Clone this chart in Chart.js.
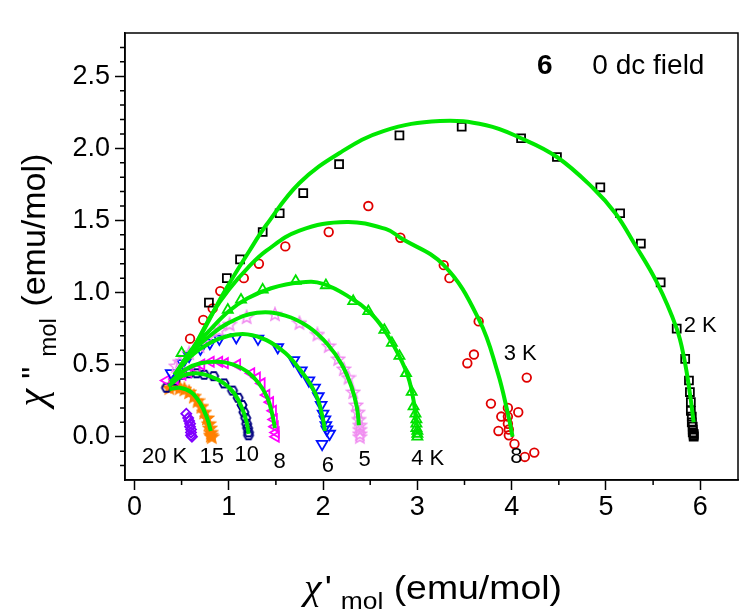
<!DOCTYPE html>
<html>
<head>
<meta charset="utf-8">
<script src="https://cdn.jsdelivr.net/npm/chart.js@4.4.0/dist/chart.umd.min.js"></script>
<style>
html,body{margin:0;padding:0;background:#fff;}
canvas{display:block;}
</style>
</head>
<body>
<canvas id="c" width="752" height="616"></canvas>
<script>
// Cole-Cole plot, compound 6, zero dc field

// axis ticks
const xTickVals = [0, 1, 2, 3, 4, 5, 6];
const xTickLabels = ['0', '1', '2', '3', '4', '5', '6'];
const yTickVals = [0, 0.5, 1, 1.5, 2, 2.5];
const yTickLabels = ['0.0', '0.5', '1.0', '1.5', '2.0', '2.5'];

// measured points (chi' , chi'')
const k2X = [0.79,0.98,1.12,1.36,1.54,1.79,2.17,2.81,3.47,4.10,4.48,4.94,5.15,5.37,5.58,5.75,5.84,5.88,5.89,5.90,5.90,5.91,5.91,5.92,5.92,5.92,5.93,5.93,5.93];
const k2Y = [0.93,1.10,1.23,1.42,1.55,1.69,1.89,2.09,2.15,2.07,1.94,1.73,1.55,1.34,1.07,0.75,0.54,0.39,0.31,0.24,0.18,0.14,0.10,0.07,0.05,0.03,0.02,0.01,0.0];
const k3X = [0.59,0.73,0.83,0.91,1.16,1.32,1.60,2.06,2.48,2.82,3.28,3.34,3.65,3.60,3.53,4.16,3.78,4.07,3.89,3.96,3.96,3.96,3.97,3.97,3.86,4.03,4.14,4.24];
const k3Y = [0.68,0.81,0.89,1.01,1.10,1.20,1.32,1.42,1.60,1.38,1.19,1.10,0.80,0.57,0.51,0.41,0.23,0.17,0.14,0.20,0.14,0.09,0.05,0.01,0.04,-0.05,-0.14,-0.11];
const k4X = [0.50,0.99,1.13,1.36,1.71,2.03,2.32,2.48,2.65,2.73,2.81,2.88,2.94,2.96,2.98,2.99,2.99,2.99,3.00,3.00,3.00];
const k4Y = [0.58,0.88,0.95,1.02,1.08,1.05,0.94,0.87,0.74,0.65,0.56,0.44,0.31,0.21,0.16,0.12,0.09,0.06,0.04,0.02,0.0];
const k5X = [0.44,0.48,0.58,0.69,0.78,0.90,1.01,1.19,1.49,1.75,1.94,2.06,2.16,2.22,2.27,2.32,2.35,2.37,2.38,2.39,2.39,2.39,2.39];
const k5Y = [0.49,0.52,0.58,0.63,0.69,0.74,0.78,0.83,0.85,0.79,0.71,0.63,0.54,0.47,0.41,0.31,0.22,0.17,0.12,0.08,0.05,0.02,0.0];
const k6X = [0.39,0.51,0.58,0.70,0.80,0.90,1.08,1.31,1.52,1.69,1.77,1.85,1.91,1.95,1.98,2.00,2.02,2.03,2.04,2.07,1.99];
const k6Y = [0.44,0.51,0.56,0.61,0.65,0.68,0.69,0.68,0.62,0.53,0.46,0.39,0.34,0.28,0.22,0.16,0.12,0.08,0.05,0.02,-0.05];
const k8X = [0.34,0.43,0.51,0.57,0.66,0.71,0.81,0.90,0.96,1.09,1.24,1.30,1.35,1.40,1.44,1.47,1.48,1.49,1.50,1.50];
const k8Y = [0.39,0.40,0.43,0.45,0.47,0.50,0.52,0.52,0.51,0.50,0.44,0.41,0.37,0.29,0.24,0.18,0.12,0.07,0.03,0.0];
const k10X = [0.34,0.43,0.51,0.58,0.66,0.74,0.84,0.95,1.04,1.10,1.14,1.16,1.18,1.19,1.20,1.21,1.21];
const k10Y = [0.34,0.39,0.43,0.44,0.44,0.43,0.42,0.37,0.32,0.27,0.22,0.17,0.13,0.09,0.06,0.03,0.01];
const k15X = [0.37,0.43,0.48,0.53,0.58,0.63,0.67,0.71,0.74,0.77,0.79,0.80,0.81,0.81,0.82];
const k15Y = [0.34,0.35,0.34,0.33,0.31,0.28,0.25,0.21,0.17,0.13,0.09,0.06,0.03,0.01,0.0];
const k20X = [0.55,0.57,0.58,0.59,0.59,0.60,0.60,0.60,0.61];
const k20Y = [0.16,0.13,0.11,0.09,0.07,0.05,0.03,0.01,0.0];

// generalized Debye fits
const fit2X = [0.45,0.52,0.62,0.76,0.94,1.22,1.40,1.75,2.18,2.64,3.24,3.73,4.10,4.48,4.87,5.10,5.30,5.54,5.75,5.83,5.89,5.93];
const fit2Y = [0.45,0.52,0.61,0.77,0.99,1.29,1.47,1.76,1.97,2.12,2.19,2.16,2.07,1.94,1.72,1.55,1.34,1.07,0.75,0.54,0.30,0.10];
const fit3X = [0.45,0.62,0.83,1.00,1.20,1.40,1.75,2.25,2.67,2.82,3.28,3.655,3.85,3.96,4.01];
const fit3Y = [0.45,0.61,0.86,1.02,1.17,1.29,1.43,1.49,1.44,1.38,1.19,0.81,0.45,0.16,0.0];
const fit4X = [0.45,0.60,0.80,1.00,1.20,1.45,1.75,2.00,2.30,2.50,2.65,2.80,2.90,2.96,2.99];
const fit4Y = [0.45,0.60,0.74,0.87,0.96,1.03,1.07,1.06,0.96,0.86,0.74,0.57,0.42,0.25,0.08];
const fit5X = [0.45,0.60,0.80,1.00,1.30,1.60,1.85,2.05,2.20,2.30,2.36,2.38];
const fit5Y = [0.45,0.58,0.70,0.79,0.86,0.84,0.76,0.64,0.50,0.35,0.20,0.08];
const fit6X = [0.42,0.60,0.80,1.00,1.20,1.40,1.60,1.75,1.87,1.95,2.00,2.02];
const fit6Y = [0.43,0.56,0.65,0.70,0.71,0.67,0.58,0.47,0.36,0.25,0.12,0.04];
const fit8X = [0.38,0.55,0.70,0.90,1.05,1.20,1.32,1.41,1.46,1.49];
const fit8Y = [0.38,0.47,0.51,0.52,0.50,0.45,0.37,0.27,0.16,0.06];
const fit10X = [0.36,0.50,0.65,0.80,0.95,1.06,1.14,1.19,1.21];
const fit10Y = [0.35,0.42,0.44,0.42,0.37,0.30,0.20,0.10,0.02];
const fit15X = [0.37,0.48,0.60,0.70,0.77,0.81];
const fit15Y = [0.33,0.34,0.31,0.23,0.13,0.04];

// text placed in data units
const curveLabels = [
  {t: '2 K', x: 6.00, y: 0.77}, {t: '3 K', x: 4.09, y: 0.575},
  {t: '4 K', x: 3.11, y: -0.155}, {t: '8', x: 4.05, y: -0.14},
  {t: '20 K', x: 0.32, y: -0.14}, {t: '15', x: 0.82, y: -0.14},
  {t: '10', x: 1.19, y: -0.127}, {t: '8', x: 1.54, y: -0.176},
  {t: '6', x: 2.05, y: -0.203}, {t: '5', x: 2.44, y: -0.16}
];

const GREEN = '#00e800';
const SANS = '"Liberation Sans", Arial, sans-serif';

function pts(xs, ys) { return xs.map((x, i) => ({x, y: ys[i]})); }

function starImg(color, filled) {
  const c = document.createElement('canvas'); c.width = c.height = 16;
  const g = c.getContext('2d');
  g.beginPath();
  for (let i = 0; i < 10; i++) {
    const r = i % 2 ? 3 : 6.8, a = -Math.PI / 2 + i * Math.PI / 5;
    g.lineTo(8 + r * Math.cos(a), 8.5 + r * Math.sin(a));
  }
  g.closePath();
  if (filled) { g.fillStyle = color; g.fill(); }
  g.strokeStyle = color; g.lineWidth = 1.5; g.stroke();
  return c;
}
function hexImg(color) {
  const c = document.createElement('canvas'); c.width = c.height = 14;
  const g = c.getContext('2d');
  g.beginPath();
  for (let i = 0; i < 6; i++) {
    const a = i * Math.PI / 3;
    g.lineTo(7 + 4.6 * Math.cos(a), 7 + 4.6 * Math.sin(a));
  }
  g.closePath();
  g.strokeStyle = color; g.lineWidth = 1.8; g.stroke();
  return c;
}

function marks(label, xs, ys, color, style, radius, rotation) {
  return {
    label, data: pts(xs, ys), showLine: false,
    pointStyle: style, pointRadius: radius, pointRotation: rotation || 0,
    borderColor: color, backgroundColor: 'rgba(0,0,0,0)', pointBorderWidth: 1.8,
    order: 2
  };
}
function fit(xs, ys) {
  return {
    label: 'fit', data: pts(xs, ys), showLine: true, borderColor: GREEN,
    borderWidth: 4, pointRadius: 0, tension: 0.4, fill: false, order: 1
  };
}

// minor tick values
const xMinor = [], yMinor = [];
for (let v = 0.5; v < 6.4; v += 1) xMinor.push(v);
for (let i = -2; i <= 27; i++) if (i % 5 !== 0) yMinor.push(i / 10);

function richText(ctx, segs, cx, cy, rot, sx) {
  let total = 0;
  segs.forEach(s => { ctx.font = s.font; s.w = ctx.measureText(s.t).width + (s.gap || 0); total += s.w; });
  ctx.save();
  ctx.translate(cx, cy); ctx.rotate(rot); ctx.scale(sx, 1);
  ctx.textAlign = 'left'; ctx.textBaseline = 'alphabetic'; ctx.fillStyle = '#000';
  let px = -total / 2;
  segs.forEach(s => { ctx.font = s.font; ctx.fillText(s.t, px, s.dy || 0); px += s.w; });
  ctx.restore();
}

const decor = {
  id: 'decor',
  beforeDraw(chart) {
    const ctx = chart.ctx;
    ctx.save(); ctx.fillStyle = '#fff'; ctx.fillRect(0, 0, chart.width, chart.height); ctx.restore();
  },
  afterDraw(chart) {
    const {ctx, chartArea: a, scales: {x, y}} = chart;
    ctx.save();
    ctx.strokeStyle = '#000'; ctx.lineWidth = 1.5;
    ctx.strokeRect(a.left, a.top, a.right - a.left, a.bottom - a.top);
    ctx.beginPath();
    xMinor.forEach(v => { const p = x.getPixelForValue(v); ctx.moveTo(p, a.bottom); ctx.lineTo(p, a.bottom + 5); });
    yMinor.forEach(v => { const p = y.getPixelForValue(v); ctx.moveTo(a.left, p); ctx.lineTo(a.left - 5, p); });
    ctx.stroke();

    ctx.fillStyle = '#000'; ctx.textAlign = 'center'; ctx.textBaseline = 'middle';
    ctx.font = '22px ' + SANS;
    curveLabels.forEach(l => ctx.fillText(l.t, x.getPixelForValue(l.x), y.getPixelForValue(l.y)));
    ctx.font = 'bold 28px ' + SANS;
    ctx.fillText('6', x.getPixelForValue(4.35), y.getPixelForValue(2.567));
    ctx.font = '28px ' + SANS;
    ctx.fillText('0 dc field', x.getPixelForValue(5.45), y.getPixelForValue(2.567));
    ctx.restore();

    const chi = 'italic 36px "Liberation Serif", serif';
    richText(ctx, [
      {t: '\u03c7', font: chi, gap: 3},
      {t: "'", font: '34px ' + SANS, gap: 8},
      {t: 'mol', font: '24px ' + SANS, dy: 10},
      {t: ' (emu/mol)', font: '34px ' + SANS}
    ], 433, 599, 0, 1.1);
    richText(ctx, [
      {t: '\u03c7', font: 'italic 40px "Liberation Serif", serif', gap: 10},
      {t: '"', font: '34px ' + SANS, gap: 10},
      {t: 'mol', font: '24px ' + SANS, dy: 11, gap: 2},
      {t: ' (emu/mol)', font: '34px ' + SANS}
    ], 45, 280, -Math.PI / 2, 1.0);
  }
};

new Chart(document.getElementById('c'), {
  type: 'scatter',
  data: {
    datasets: [
      fit(fit2X, fit2Y), fit(fit3X, fit3Y), fit(fit4X, fit4Y), fit(fit5X, fit5Y),
      fit(fit6X, fit6Y), fit(fit8X, fit8Y), fit(fit10X, fit10Y), fit(fit15X, fit15Y),
      marks('2 K', k2X, k2Y, '#000000', 'rect', 5.6),
      marks('3 K', k3X, k3Y, '#e00000', 'circle', 4.3),
      marks('4 K', k4X, k4Y, '#00e000', 'triangle', 5.8),
      marks('5 K', k5X, k5Y, '#f08cf0', starImg('#f08cf0', false), 7),
      marks('6 K', k6X, k6Y, '#0010ff', 'triangle', 6.2, 180),
      marks('8 K', k8X, k8Y, '#ff00ff', 'triangle', 5.8, 270),
      marks('10 K', k10X, k10Y, '#000080', hexImg('#000080'), 6),
      marks('15 K', k15X, k15Y, '#ff8000', starImg('#ff8000', true), 7),
      marks('20 K', k20X, k20Y, '#8000ff', 'rectRot', 5)
    ]
  },
  options: {
    responsive: false,
    animation: false,
    events: [],
    layout: {padding: {top: 33, right: 14, left: 0, bottom: 0}},
    plugins: {legend: {display: false}, tooltip: {enabled: false}},
    scales: {
      x: {
        type: 'linear', min: -0.1, max: 6.4,
        afterBuildTicks: s => { s.ticks = xTickVals.map(v => ({value: v})); },
        afterFit: s => { s.height = 136; },
        ticks: {
          callback: (v, i) => xTickLabels[i], autoSkip: false, maxRotation: 0,
          color: '#000', padding: 1, font: {family: SANS, size: 27}
        },
        grid: {drawOnChartArea: false, tickLength: 10, tickColor: '#000', tickWidth: 1.5},
        border: {color: '#000', width: 1.5}
      },
      y: {
        type: 'linear', min: -0.3, max: 2.8,
        afterBuildTicks: s => { s.ticks = yTickVals.map(v => ({value: v})); },
        afterFit: s => { s.width = 125; },
        ticks: {
          callback: (v, i) => yTickLabels[i], autoSkip: false,
          color: '#000', padding: 5, font: {family: SANS, size: 27}
        },
        grid: {drawOnChartArea: false, tickLength: 10, tickColor: '#000', tickWidth: 1.5},
        border: {color: '#000', width: 1.5}
      }
    }
  },
  plugins: [decor]
});
</script>
</body>
</html>
